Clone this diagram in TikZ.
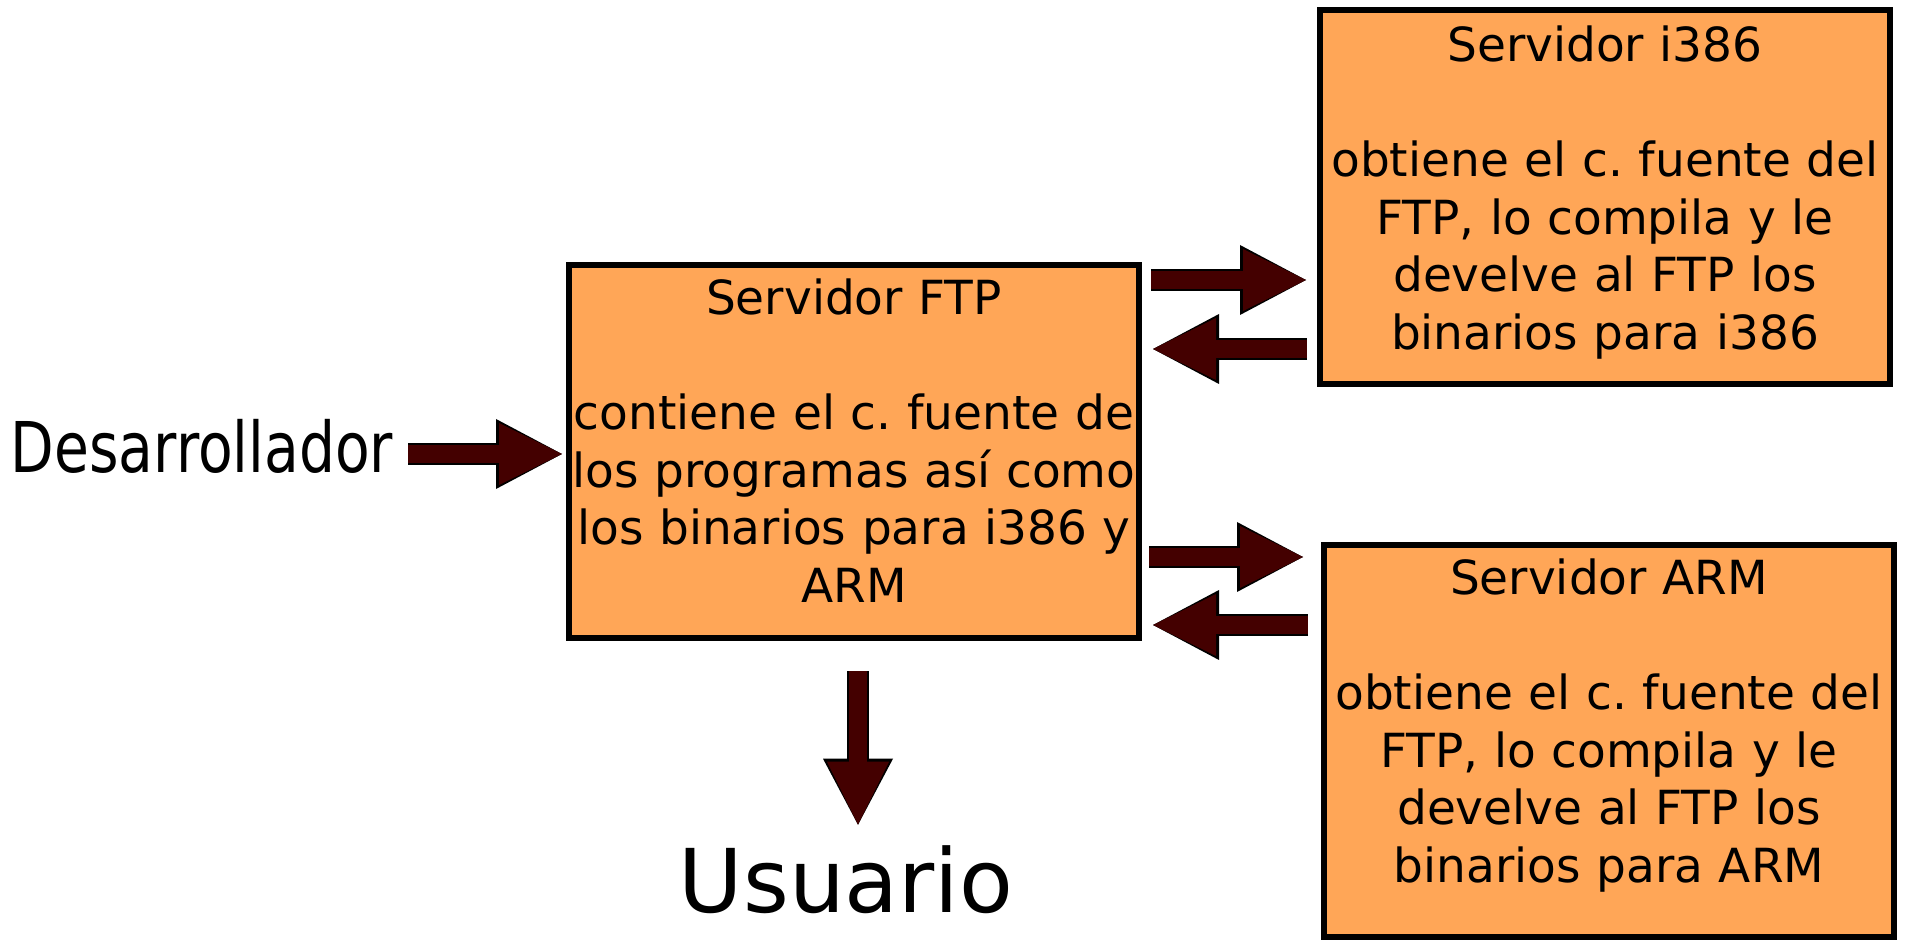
\documentclass[tikz,border=0pt]{standalone}
\usepackage{fontspec}
\setmainfont{DejaVu Sans}
\newfontfamily\narrowfont[FakeStretch=0.81]{DejaVu Sans}
\usepackage{tikz}
\usetikzlibrary{arrows.meta}
\definecolor{boxorange}{HTML}{FFA657}
\definecolor{arrowred}{HTML}{440000}
\newcommand{\boxfont}{\fontsize{23.5pt}{28.75pt}\selectfont}
\newcommand{\topgap}[1]{\rule{0pt}{#1}}
\newcommand{\botgap}[1]{\rule[-#1]{0pt}{0pt}}
\frenchspacing

\begin{document}
\begin{tikzpicture}[x=0.5pt, y=-0.5pt,
srvbox/.style={draw=black, line width=3pt, fill=boxorange, anchor=north,
	text width=285pt, align=center, inner sep=0pt, font=\boxfont},
flow/.style={draw=arrowred, line width=9pt,
	-{Triangle[length=31.5pt, width=31pt, line width=0pt]},
	preaction={draw=black, line width=11pt,
		-{Triangle[length=33pt, width=35pt, line width=0pt]}}}]
\useasboundingbox (0,0) rectangle (1907,940);

%the three servers
\node[srvbox] (ftp) at (854,262) {\topgap{25pt}Servidor FTP\\[28.75pt]
	contiene el c. fuente de\\ los programas así como\\
	los binarios para i386 y\\ ARM\botgap{18pt}};
\node[srvbox] (i386) at (1605,7) {\topgap{26pt}Servidor i386\\[28.75pt]
	obtiene el c. fuente del\\ FTP, lo compila y le\\
	develve al FTP los\\ binarios para i386\botgap{17.5pt}};
\node[srvbox] (arm) at (1609,542) {\topgap{25pt}Servidor ARM\\[28.75pt]
	obtiene el c. fuente del\\ FTP, lo compila y le\\
	develve al FTP los\\ binarios para ARM\botgap{27pt}};

%people
\node[font=\narrowfont\fontsize{35pt}{40pt}\selectfont, inner sep=0pt, anchor=base]
	(dev) at (202,473) {Desarrollador};
\node[font=\fontsize{44pt}{50pt}\selectfont, inner sep=0pt, anchor=base]
	(usr) at (846,912) {Usuario};

%arrows between them
\draw[flow, shorten <=7.5pt, shorten >=2pt] (dev.east |- 0,454) -- (ftp.west |- 0,454);
\draw[flow, shorten <=4.5pt, shorten >=5.5pt] (ftp.east |- 0,280) -- (i386.west |- 0,280);
\draw[flow, shorten <=5pt, shorten >=5.5pt] (i386.west |- 0,349) -- (ftp.east |- 0,349);
\draw[flow, shorten <=3.5pt, shorten >=9pt] (ftp.east |- 0,557) -- (arm.west |- 0,557);
\draw[flow, shorten <=6.5pt, shorten >=5.5pt] (arm.west |- 0,625) -- (ftp.east |- 0,625);
\draw[flow, shorten <=15pt, shorten >=10pt] (ftp.south -| 858,0) -- (usr.north -| 858,0);
\end{tikzpicture}
\end{document}
